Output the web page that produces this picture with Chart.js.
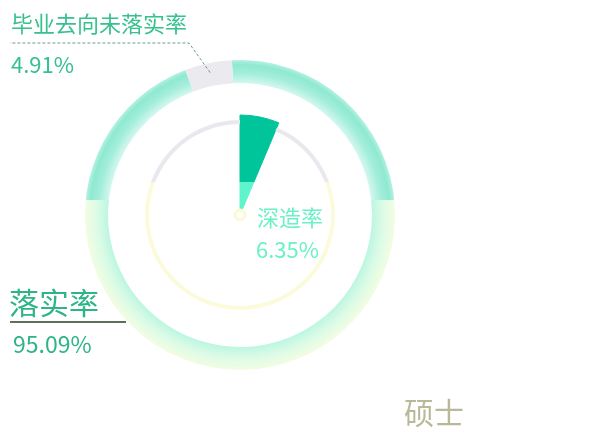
<!DOCTYPE html>
<html>
<head>
<meta charset="utf-8">
<script src="https://cdn.jsdelivr.net/npm/chart.js@4/dist/chart.umd.min.js"></script>
<style>
    body { margin: 0; background: #fff; }
    #wrap { position: relative; width: 594px; height: 430px; font-family: "Noto Sans CJK SC", "Noto Sans", sans-serif; }
    #wrap canvas { position: absolute; left: 0; top: 0; }
    .lbl { position: absolute; white-space: nowrap; line-height: 1; }
</style>
</head>
<body>
<div id="wrap">
    <canvas id="ring" width="594" height="430"></canvas>
    <div class="lbl" style="left:11px;top:11px;font-size:22px;color:#36c18f;">毕业去向未落实率</div>
    <div class="lbl" style="left:11px;top:52px;font-size:22px;color:#36c18f;">4.91%</div>
    <div class="lbl" style="left:257px;top:205px;font-size:22px;color:#6cf0c6;">深造率</div>
    <div class="lbl" style="left:256px;top:237px;font-size:22px;color:#6cf0c6;">6.35%</div>
    <div class="lbl" style="left:9px;top:286px;font-size:30px;color:#2fb488;">落实率</div>
    <div class="lbl" style="left:13px;top:332px;font-size:23px;color:#2fb488;">95.09%</div>
    <div class="lbl" style="left:404px;top:396px;font-size:30px;color:#b9b99a;">硕士</div>
</div>
<script>
'use strict';

// outer ring: 落实 / 未落实
const outerLabels = ['落实率', '毕业去向未落实率'];
const outerValues = [95.09, 4.91];

// inner pie: 深造 / 其他
const innerLabels = ['深造率', '其他'];
const innerValues = [6.35, 93.65];

const SPLIT_Y = 182;   // colour change line of the inner wedge / track
const RING_SPLIT_Y = 200;

function wedgeFill(chart) {
    const g = chart.ctx.createLinearGradient(0, 0, 0, chart.height);
    const p = SPLIT_Y / chart.height;
    g.addColorStop(0, '#00c49a');
    g.addColorStop(p, '#00c49a');
    g.addColorStop(p, '#5ef5cd');
    g.addColorStop(1, '#5ef5cd');
    return g;
}

function trackFill(chart) {
    const g = chart.ctx.createLinearGradient(0, 0, 0, chart.height);
    const p = SPLIT_Y / chart.height;
    g.addColorStop(0, '#e8e8ee');
    g.addColorStop(p, '#e8e8ee');
    g.addColorStop(p, '#fbfbdc');
    g.addColorStop(1, '#fbfbdc');
    return g;
}

// outer ring paint: teal tube above the split line, pale green below
let ringPattern = null;
function ringFill(chart) {
    const area = chart.chartArea;
    if (!area) return '#9cefd9';
    if (ringPattern) return ringPattern;
    const cx = (area.left + area.right) / 2;
    const cy = (area.top + area.bottom) / 2;
    const off = document.createElement('canvas');
    off.width = chart.width;
    off.height = chart.height;
    const o = off.getContext('2d');

    const up = o.createRadialGradient(cx, cy, 131, cx, cy, 155);
    up.addColorStop(0, '#d9f8f0');
    up.addColorStop(0.45, '#a3eedb');
    up.addColorStop(0.8, '#8fe9d1');
    up.addColorStop(1, '#b4f1e2');
    o.fillStyle = up;
    o.fillRect(0, 0, off.width, RING_SPLIT_Y);

    const low = o.createRadialGradient(cx, cy, 131, cx, cy, 155);
    low.addColorStop(0, '#b9f6e2');
    low.addColorStop(0.5, '#dcfbe6');
    low.addColorStop(1, '#f2fde2');
    o.fillStyle = low;
    o.fillRect(0, RING_SPLIT_Y, off.width, off.height - RING_SPLIT_Y);

    ringPattern = chart.ctx.createPattern(off, 'no-repeat');
    return ringPattern;
}

const leaders = {
    id: 'leaders',
    afterDatasetsDraw(chart) {
        const ctx = chart.ctx;
        const meta = chart.getDatasetMeta(0);
        const arc = meta.data[1];
        const mid = (arc.startAngle + arc.endAngle) / 2;
        const r = (arc.innerRadius + arc.outerRadius) / 2 + 2;
        const x0 = arc.x + Math.cos(mid) * r;
        const y0 = arc.y + Math.sin(mid) * r;

        ctx.save();
        ctx.setLineDash([3, 2]);
        ctx.lineWidth = 1;
        ctx.strokeStyle = '#6a9c90';
        ctx.beginPath();
        ctx.moveTo(x0, y0);
        ctx.lineTo(189, 43);
        ctx.lineTo(10, 43);
        ctx.stroke();

        // leader of the lower label
        ctx.setLineDash([]);
        ctx.strokeStyle = '#5f6f58';
        ctx.lineWidth = 2;
        ctx.beginPath();
        ctx.moveTo(10, 322);
        ctx.lineTo(126, 322);
        ctx.stroke();
        ctx.restore();

        // centre dot
        const inner = chart.getDatasetMeta(4).data[0];
        ctx.save();
        ctx.beginPath();
        ctx.arc(inner.x, inner.y, 5, 0, Math.PI * 2);
        ctx.fillStyle = '#ffffff';
        ctx.fill();
        ctx.lineWidth = 3;
        ctx.strokeStyle = '#fafad4';
        ctx.stroke();
        ctx.restore();
    }
};

// wedge pieces get a thin border in their own colour so the seams close
const wedgeBorder = (c) => c.dataIndex === 0 ? 1 : 0;

const ctx = document.getElementById('ring');

new Chart(ctx, {
    type: 'doughnut',
    data: {
        labels: outerLabels,
        datasets: [
            {
                data: outerValues,
                rotation: -3,
                weight: 23,
                borderWidth: 0,
                backgroundColor: (c) => c.dataIndex === 0 ? ringFill(c.chart) : '#ebebef'
            },
            {
                // spacer between the two rings
                data: innerValues,
                weight: 32,
                borderWidth: 0,
                backgroundColor: 'rgba(0,0,0,0)'
            },
            {
                data: innerValues,
                weight: 5,
                borderWidth: wedgeBorder,
                borderColor: (c) => wedgeFill(c.chart),
                backgroundColor: (c) => c.dataIndex === 0 ? wedgeFill(c.chart) : 'rgba(0,0,0,0)'
            },
            {
                data: innerValues,
                weight: 4,
                borderWidth: wedgeBorder,
                borderColor: (c) => wedgeFill(c.chart),
                backgroundColor: (c) => c.dataIndex === 0 ? wedgeFill(c.chart) : trackFill(c.chart)
            },
            {
                data: innerValues,
                weight: 91,
                borderWidth: wedgeBorder,
                borderColor: (c) => wedgeFill(c.chart),
                backgroundColor: (c) => c.dataIndex === 0 ? wedgeFill(c.chart) : 'rgba(0,0,0,0)'
            }
        ]
    },
    options: {
        responsive: false,
        animation: false,
        events: [],
        cutout: 0,
        hoverOffset: 0,
        layout: {
            padding: { left: 85, right: 199, top: 60, bottom: 60 }
        },
        plugins: {
            legend: { display: false },
            tooltip: { enabled: false }
        }
    },
    plugins: [leaders]
});
</script>
</body>
</html>
